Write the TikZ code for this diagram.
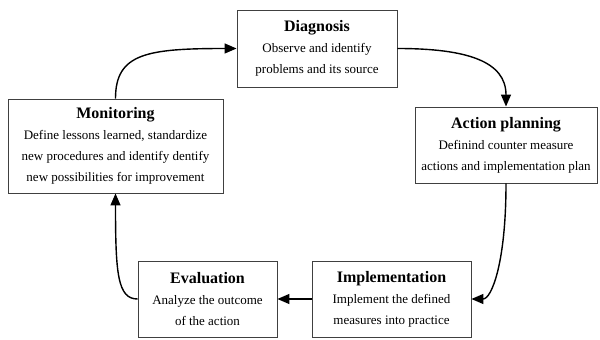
\documentclass[tikz,border=0pt]{standalone}
\usepackage{fontspec}
\setmainfont{Liberation Serif}
\usetikzlibrary{arrows.meta}
\begin{document}
\begin{tikzpicture}[x=1pt,y=1pt,
  stagebox/.style={draw=black!75, line width=0.9pt, fill=white, align=center,
    inner sep=0pt, font=\fontsize{13}{21}\selectfont},
  flow/.style={line width=1.4pt, -{Triangle[length=12pt,width=10pt]}}]
\useasboundingbox (0,0) rectangle (600,340);
\newcommand{\stitle}[1]{\textbf{\fontsize{16}{21}\selectfont #1}}
\node[stagebox, minimum width=160pt, minimum height=77pt] (diag) at (317,291.5)
  {\stitle{Diagnosis}\\Observe and identify\\problems and its source};
\node[stagebox, minimum width=182pt, minimum height=76pt] (act) at (506,195)
  {\stitle{Action planning}\\Definind counter measure\\actions and implementation plan};
\node[stagebox, minimum width=215pt, minimum height=94pt] (mon) at (115.5,194)
  {\stitle{Monitoring}\\Define lessons learned, standardize\\new procedures and identify dentify\\new possibilities for improvement};
\node[stagebox, minimum width=139pt, minimum height=76pt] (eval) at (207.5,41)
  {\stitle{Evaluation}\\Analyze the outcome\\of the action};
\node[stagebox, minimum width=159pt, minimum height=76pt] (impl) at (391.5,41)
  {\stitle{Implementation}\\Implement the defined\\measures into practice};
\draw[flow] (mon.north) .. controls +(0,45) and +(-90,0) .. (diag.west);
\draw[flow] (diag.east) .. controls +(70,0) and +(0,45) .. (act.north);
\draw[flow] (act.south) .. controls +(0,-80) and +(20,0) .. (impl.east);
\draw[flow] (impl.west) -- (eval.east);
\draw[flow] (eval.west) .. controls +(-20,0) and +(0,-80) .. (mon.south);
\end{tikzpicture}
\end{document}
